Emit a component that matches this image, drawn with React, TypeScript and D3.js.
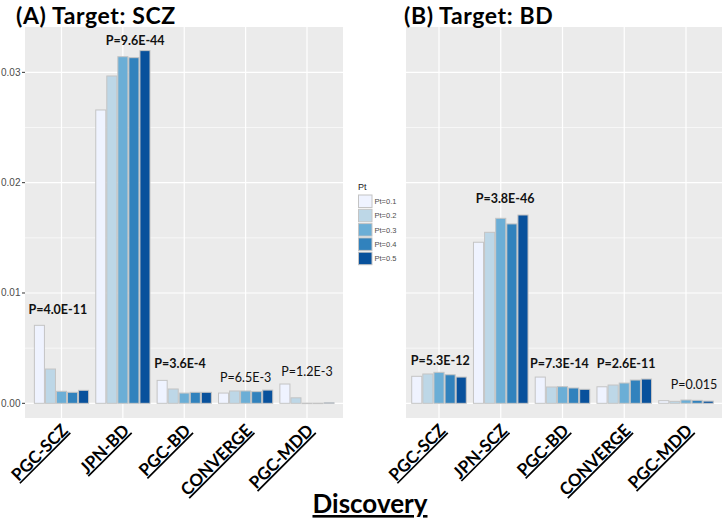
import { useEffect, useRef } from "react";
import * as d3 from "d3";

// Discovery cohorts per panel
const categoriesA = ["PGC-SCZ", "JPN-BD", "PGC-BD", "CONVERGE", "PGC-MDD"];
const categoriesB = ["PGC-SCZ", "JPN-SCZ", "PGC-BD", "CONVERGE", "PGC-MDD"];
const thresholds = ["Pt=0.1", "Pt=0.2", "Pt=0.3", "Pt=0.4", "Pt=0.5"];
const colors = ["#EFF3FF", "#BDD7E7", "#6BAED6", "#3182BD", "#08519C"];

// R2 values, one row per category, one column per Pt
const valuesA = [
  [0.00707, 0.00311, 0.00109, 0.001, 0.00118],
  [0.02659, 0.02967, 0.03142, 0.03133, 0.03197],
  [0.00208, 0.0013, 0.00093, 0.001, 0.001],
  [0.00093, 0.00112, 0.00112, 0.00106, 0.0012],
  [0.00175, 0.0005, 0.00002, 0.00002, 0.00005],
];
const valuesB = [
  [0.00245, 0.00266, 0.00281, 0.00259, 0.00238],
  [0.0146, 0.0155, 0.01677, 0.01626, 0.01707],
  [0.00238, 0.00148, 0.00151, 0.00139, 0.00127],
  [0.0015, 0.00166, 0.00184, 0.00211, 0.0022],
  [0.00024, 0.00018, 0.0003, 0.00027, 0.0002],
];

// P-value annotations
const pLabelsA = ["P=4.0E-11", "P=9.6E-44", "P=3.6E-4", "P=6.5E-3", "P=1.2E-3"];
const pBoldA = [true, true, true, false, false];
const pYA = [0.00846, 0.03285, 0.00356, 0.00229, 0.00284];
const pShiftA = [-0.06, 0.2, -0.07, 0, 0];

const pLabelsB = ["P=5.3E-12", "P=3.8E-46", "P=7.3E-14", "P=2.6E-11", "P=0.015"];
const pBoldB = [true, true, true, true, false];
const pYB = [0.00384, 0.01852, 0.00356, 0.00356, 0.00166];
const pShiftB = [0.02, 0.07, -0.05, 0.03, 0.13];

const yTicks = [0, 0.01, 0.02, 0.03];
const yMinor = [0.005, 0.015, 0.025];

const W = 722;
const H = 524;
const FONT = "Lato, 'Open Sans', sans-serif";

export default function App() {
  const svgRef = useRef<SVGSVGElement>(null);

  useEffect(() => {
    if (!svgRef.current) return;
    const svg = d3.select(svgRef.current);
    svg.selectAll("*").remove();

    const top = 27;
    const bottom = 418;
    const yScale = d3
      .scaleLinear()
      .domain([-0.00133, 0.03411])
      .range([bottom, top]);

    const drawPanel = (
      left: number,
      right: number,
      firstX: number,
      lastX: number,
      title: string,
      titleX: number,
      cats: string[],
      values: number[][],
      labels: string[],
      bold: boolean[],
      labelY: number[],
      labelShift: number[],
      showAxis: boolean
    ) => {
      const g = svg.append("g");
      const xScale = d3.scaleLinear().domain([0, cats.length - 1]).range([firstX, lastX]);
      const step = xScale(1) - xScale(0);
      const groupW = step * 0.9;
      const barW = groupW / values[0].length;

      g.append("rect")
        .attr("x", left)
        .attr("y", top)
        .attr("width", right - left)
        .attr("height", bottom - top)
        .attr("fill", "#EBEBEB");

      // minor grid
      g.selectAll(".minor")
        .data(yMinor)
        .enter()
        .append("line")
        .attr("x1", left)
        .attr("x2", right)
        .attr("y1", d => yScale(d))
        .attr("y2", d => yScale(d))
        .attr("stroke", "#ffffff")
        .attr("stroke-width", 0.6);

      // major grid
      g.selectAll(".major")
        .data(yTicks)
        .enter()
        .append("line")
        .attr("x1", left)
        .attr("x2", right)
        .attr("y1", d => yScale(d))
        .attr("y2", d => yScale(d))
        .attr("stroke", "#ffffff")
        .attr("stroke-width", 1.2);

      g.selectAll(".vgrid")
        .data(cats)
        .enter()
        .append("line")
        .attr("x1", (_, i) => xScale(i))
        .attr("x2", (_, i) => xScale(i))
        .attr("y1", top)
        .attr("y2", bottom)
        .attr("stroke", "#ffffff")
        .attr("stroke-width", 1.2);

      // bars
      values.forEach((row, ci) => {
        row.forEach((v, si) => {
          const x0 = xScale(ci) - groupW / 2 + si * barW;
          g.append("rect")
            .attr("x", x0 + 0.5)
            .attr("y", yScale(v))
            .attr("width", barW - 1)
            .attr("height", Math.max(0.5, yScale(0) - yScale(v)))
            .attr("fill", colors[si])
            .attr("stroke", "#C4C4C4")
            .attr("stroke-width", 1);
        });
      });

      // p-value labels
      labels.forEach((t, i) => {
        g.append("text")
          .attr("x", xScale(i + labelShift[i]))
          .attr("y", yScale(labelY[i]))
          .attr("dy", "0.35em")
          .attr("text-anchor", "middle")
          .attr("font-family", FONT)
          .attr("font-size", "12.5px")
          .attr("font-weight", bold[i] ? "bold" : "normal")
          .attr("fill", "#111")
          .text(t);
      });

      // x tick labels, rotated
      cats.forEach((c, i) => {
        g.append("text")
          .attr("transform", `translate(${xScale(i) + 7.5},${bottom + 13.5}) rotate(-45)`)
          .attr("text-anchor", "end")
          .attr("font-family", FONT)
          .attr("font-size", "17px")
          .attr("font-weight", "bold")
          .attr("fill", "#000")
          .style("text-decoration", "underline")
          .text(c);
      });

      if (showAxis) {
        g.selectAll(".ytick")
          .data(yTicks)
          .enter()
          .append("line")
          .attr("x1", left - 3)
          .attr("x2", left)
          .attr("y1", d => yScale(d))
          .attr("y2", d => yScale(d))
          .attr("stroke", "#333");
        g.selectAll(".ylab")
          .data(yTicks)
          .enter()
          .append("text")
          .attr("x", left - 4.5)
          .attr("y", d => yScale(d))
          .attr("dy", "0.35em")
          .attr("text-anchor", "end")
          .attr("font-family", "'Liberation Sans', Arial, sans-serif")
          .attr("font-size", "10px")
          .attr("fill", "#4D4D4D")
          .text(d => d3.format(".2f")(d));
      }

      g.append("text")
        .attr("x", titleX)
        .attr("y", 23.5)
        .attr("font-family", FONT)
        .attr("font-size", "23px")
        .attr("font-weight", "bold")
        .attr("letter-spacing", "0.6px")
        .attr("fill", "#000")
        .text(title);
    };

    drawPanel(25, 343, 61.5, 307, "(A) Target: SCZ", 16, categoriesA, valuesA,
      pLabelsA, pBoldA, pYA, pShiftA, true);
    drawPanel(406, 722, 439, 686, "(B) Target: BD", 404, categoriesB, valuesB,
      pLabelsB, pBoldB, pYB, pShiftB, false);

    // legend
    const legend = svg.append("g").attr("transform", "translate(358, 195)");
    legend
      .append("text")
      .attr("x", 0)
      .attr("y", -5)
      .attr("font-family", "'Liberation Sans', Arial, sans-serif")
      .attr("font-size", "9px")
      .attr("fill", "#222")
      .text("Pt");
    thresholds.forEach((t, i) => {
      legend
        .append("rect")
        .attr("x", 0.5)
        .attr("y", i * 14.3)
        .attr("width", 13.5)
        .attr("height", 12.5)
        .attr("fill", colors[i])
        .attr("stroke", "#C4C4C4");
      legend
        .append("text")
        .attr("x", 16.5)
        .attr("y", i * 14.3 + 6.5)
        .attr("dy", "0.35em")
        .attr("font-family", "'Liberation Sans', Arial, sans-serif")
        .attr("font-size", "7.5px")
        .attr("fill", "#4D4D4D")
        .text(t);
    });

    // shared x title
    svg
      .append("text")
      .attr("x", 370)
      .attr("y", 513)
      .attr("text-anchor", "middle")
      .attr("font-family", FONT)
      .attr("font-size", "26px")
      .attr("font-weight", "bold")
      .attr("fill", "#000")
      .style("text-decoration", "underline")
      .text("Discovery");
  }, []);

  return (
    <svg
      ref={svgRef}
      width={W}
      height={H}
      viewBox={`0 0 ${W} ${H}`}
      style={{ position: "absolute", left: 0, top: 0, display: "block", background: "#fff" }}
    />
  );
}
